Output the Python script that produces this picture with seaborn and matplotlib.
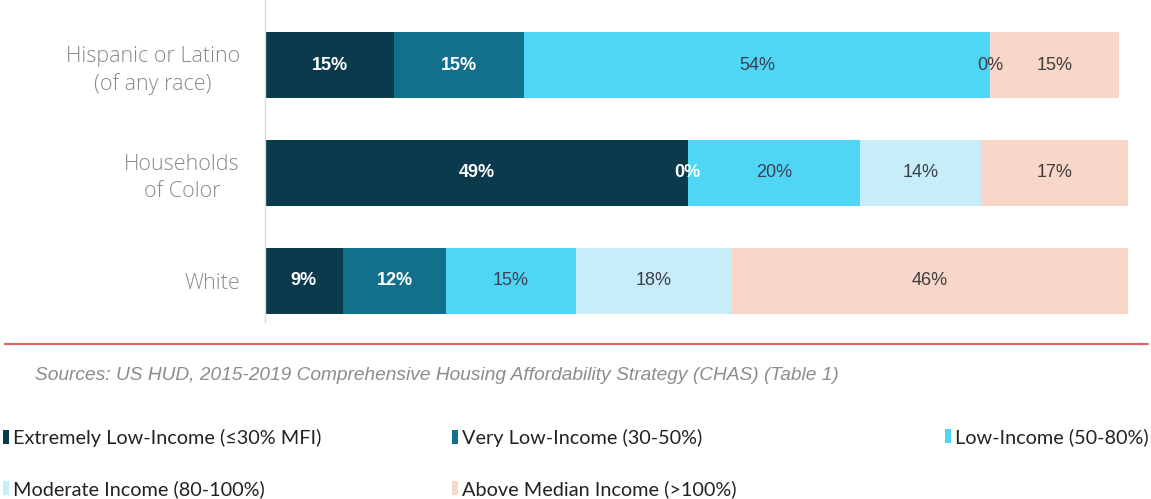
import matplotlib
matplotlib.use("Agg")
import matplotlib.pyplot as plt
from matplotlib.patches import Patch
from matplotlib.lines import Line2D
import numpy as np
import pandas as pd
import seaborn as sns

# Household income distribution by race / ethnicity (percent of households)
categories = ["Hispanic or Latino\n(of any race)", "Households\nof Color", "White"]
extremely_low = [15, 49, 9]
very_low = [15, 0, 12]
low_income = [54, 20, 15]
moderate = [0, 14, 18]
above_median = [15, 17, 46]

series_names = [
    "Extremely Low-Income (\u226430% MFI)",
    "Very Low-Income (30-50%)",
    "Low-Income (50-80%)",
    "Moderate Income (80-100%)",
    "Above Median Income (>100%)",
]
series_values = [extremely_low, very_low, low_income, moderate, above_median]
series_colors = ["#0a3a4b", "#12708d", "#4fd6f5", "#c6edf8", "#f8d6c8"]
label_colors = ["white", "white", "#3d3d52", "#3d3d4a", "#3d3d3d"]
label_weights = ["bold", "bold", "normal", "normal", "normal"]

source_note = "Sources: US HUD, 2015-2019 Comprehensive Housing Affordability Strategy (CHAS) (Table 1)"

sns.set_theme(style="white")
plt.rcParams["font.family"] = ["Liberation Sans", "DejaVu Sans"]

W, H = 1151, 499
fig = plt.figure(figsize=(W / 100, H / 100), dpi=100)
ax = fig.add_axes([265 / W, 1 - 322 / H, 863 / W, 322 / H])

vals = np.array(series_values, dtype=float)
cum = np.cumsum(vals, axis=0)
starts = cum - vals

# Stacked bars: draw cumulative totals from the outermost layer inwards
for i in range(len(series_names) - 1, -1, -1):
    df = pd.DataFrame({"category": categories, "value": cum[i]})
    sns.barplot(data=df, x="value", y="category", orient="h", order=categories,
                color=series_colors[i], saturation=1, width=0.61,
                linewidth=0, ax=ax)

# Value labels centred on each segment
for i in range(len(series_names)):
    for j in range(len(categories)):
        xc = starts[i, j] + vals[i, j] / 2
        ax.text(xc, j, f"{int(vals[i, j])}%", ha="center", va="center",
                fontsize=13, color=label_colors[i], weight=label_weights[i],
                family=["Liberation Sans", "DejaVu Sans"])

ax.set_xlim(0, 100)
ax.set_ylim(2.38, -0.602)
ax.set_xlabel("")
ax.set_ylabel("")
ax.xaxis.set_visible(False)
for s in ["top", "right", "bottom"]:
    ax.spines[s].set_visible(False)
ax.spines["left"].set_color("#d9d9d9")
ax.spines["left"].set_linewidth(1.0)
ax.tick_params(axis="y", length=0, pad=18)
for t in ax.get_yticklabels():
    t.set_fontsize(15.5)
    t.set_color("#8a8a8a")
    t.set_family(["Open Sans", "DejaVu Sans"])
    t.set_fontweight("light")
    t.set_ha("right")
    t.set_va("center_baseline")
    t.set_multialignment("center")
    t.set_linespacing(1.35)

# Divider rule and source note
fig.add_artist(Line2D([5 / W, 1148 / W], [1 - 344 / H, 1 - 344 / H],
                      color="#e06060", lw=1.5))
fig.text(35 / W, 1 - 375 / H, source_note, ha="left", va="center",
         fontsize=13.8, style="italic", color="#8c8c8c")

# Legend split into three columns
handles = [Patch(facecolor=c, edgecolor="none") for c in series_colors]
col_groups = [[0, 3], [1, 4], [2]]
col_x = [3, 452, 945]
for grp, x in zip(col_groups, col_x):
    ypix = 437 if len(grp) == 1 else (437 + 490) / 2
    fig.legend([handles[k] for k in grp], [series_names[k] for k in grp],
               loc="center left", bbox_to_anchor=(x / W, 1 - ypix / H),
               frameon=False, borderpad=0, borderaxespad=0,
               handlelength=0.3, handleheight=0.7, handletextpad=0.2,
               labelspacing=1.7,
               prop={"family": ["Lato", "DejaVu Sans"], "size": 14.3},
               labelcolor="#222222")

fig.savefig("out.png", dpi=100, facecolor="white")
